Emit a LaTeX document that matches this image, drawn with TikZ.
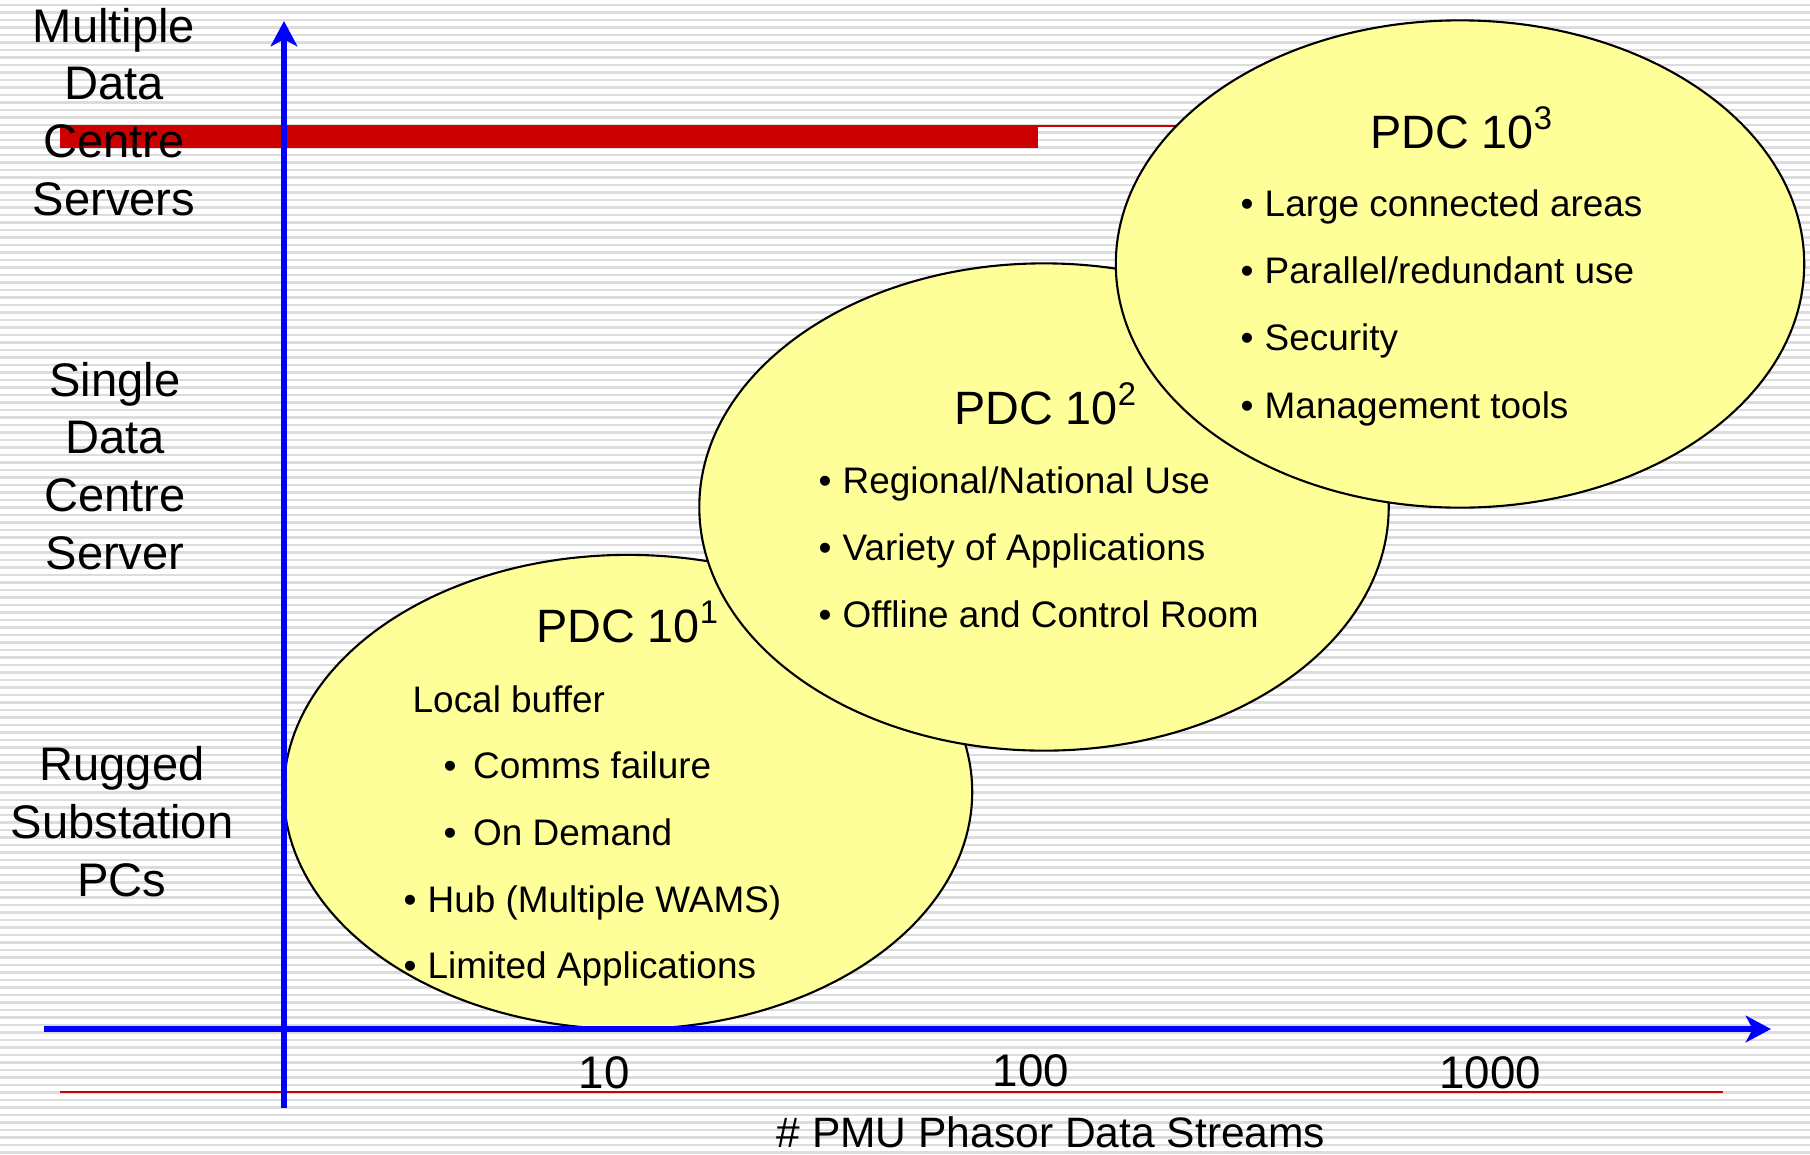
\documentclass[tikz,border=0pt]{standalone}
\usepackage{fontspec}
\setmainfont{Liberation Sans}
\usetikzlibrary{arrows.meta,shapes.geometric}
\definecolor{stripe}{HTML}{DCDCDC}
\definecolor{pdcfill}{HTML}{FFFF99}
\definecolor{barred}{HTML}{CC0000}
\newcommand{\itm}[2][0.3em]{\textbullet\hspace{#1}#2}

\begin{document}
\begin{tikzpicture}[x=0.01cm, y=-0.01cm,
    pdc/.style={ellipse, draw=black, line width=0.6pt, fill=pdcfill, inner sep=0pt},
    axis/.style={blue, line width=1.6pt, -{Stealth[length=7.2pt, width=7.6pt, inset=2pt]}},
    side/.style={align=center, anchor=base, inner sep=0pt, font=\fontsize{13.4}{16.36}\selectfont},
    title/.style={anchor=base, inner sep=0pt, font=\fontsize{13.3}{16}\selectfont},
    item/.style={anchor=base west, inner sep=0pt, font=\fontsize{10.5}{12.6}\selectfont},
    tick/.style={anchor=base, inner sep=0pt, font=\fontsize{13}{15.6}\selectfont}]

  % background
  \fill[white] (0,0) rectangle (1810,1154);
  \useasboundingbox (0,0) rectangle (1810,1154);
  \foreach \y in {5,12.5,...,1154}
    \draw[stripe, line width=0.75pt] (0,\y) -- (1810,\y);

  % red marks
  \fill[barred] (60,125) rectangle (1038,148);
  \draw[barred, line width=0.6pt] (1038,126) -- (1723,126);
  \draw[barred, line width=0.75pt] (60,1092) -- (1723,1092);

  % the three PDC levels
  \node[pdc, minimum width=6.88cm, minimum height=4.74cm] (pdc1) at (628,792) {};
  \node[pdc, minimum width=6.89cm, minimum height=4.87cm] (pdc2) at (1044,507) {};
  \node[pdc, minimum width=6.88cm, minimum height=4.87cm] (pdc3) at (1460,264) {};

  % axes
  \coordinate (ybot) at (284,1108);
  \coordinate (ytop) at (284,21);
  \coordinate (xleft) at (44,1029);
  \coordinate (xright) at (1771,1029);
  \draw[axis] (ybot) -- (ytop);
  \draw[axis] (xleft) -- (xright);

  % side labels (base = last line)
  \node[side] (servers) at (114,215) {Multiple\\Data\\Centre\\Servers};
  \node[side] (single) at (115,569) {Single\\Data\\Centre\\Server};
  \node[side] (rugged) at (122,896) {Rugged\\Substation\\PCs};

  % tick labels
  \node[tick] (n10) at (604,1088) {10};
  \node[tick] (n100) at (1031,1086) {100};
  \node[tick] (n1000) at (1490,1088) {1000};
  \node[tick, font=\fontsize{12.1}{14.5}\selectfont] (xlabel) at (1051,1147) {\# PMU Phasor Data Streams};

  % PDC 10^1
  \node[title] (t1) at (628,642) {PDC 10\textsuperscript{1}};
  \node[item] (a1) at (412,712) {Local buffer};
  \node[item] (a2) at (443,778) {\itm[0.45em]{Comms failure}};
  \node[item] (a3) at (443,845) {\itm[0.45em]{On Demand}};
  \node[item] (a4) at (403,912) {\itm{Hub (Multiple WAMS)}};
  \node[item] (a5) at (403,978) {\itm{Limited Applications}};

  % PDC 10^2
  \node[title] (t2) at (1046,424) {PDC 10\textsuperscript{2}};
  \node[item] (b1) at (818,493) {\itm{Regional/National Use}};
  \node[item] (b2) at (818,560) {\itm{Variety of Applications}};
  \node[item] (b3) at (818,627) {\itm{Offline and Control Room}};

  % PDC 10^3
  \node[title] (t3) at (1462,148) {PDC 10\textsuperscript{3}};
  \node[item] (c1) at (1240,216) {\itm{Large connected areas}};
  \node[item] (c2) at (1240,283) {\itm{Parallel/redundant use}};
  \node[item] (c3) at (1240,350) {\itm{Security}};
  \node[item] (c4) at (1240,418) {\itm{Management tools}};
\end{tikzpicture}
\end{document}
